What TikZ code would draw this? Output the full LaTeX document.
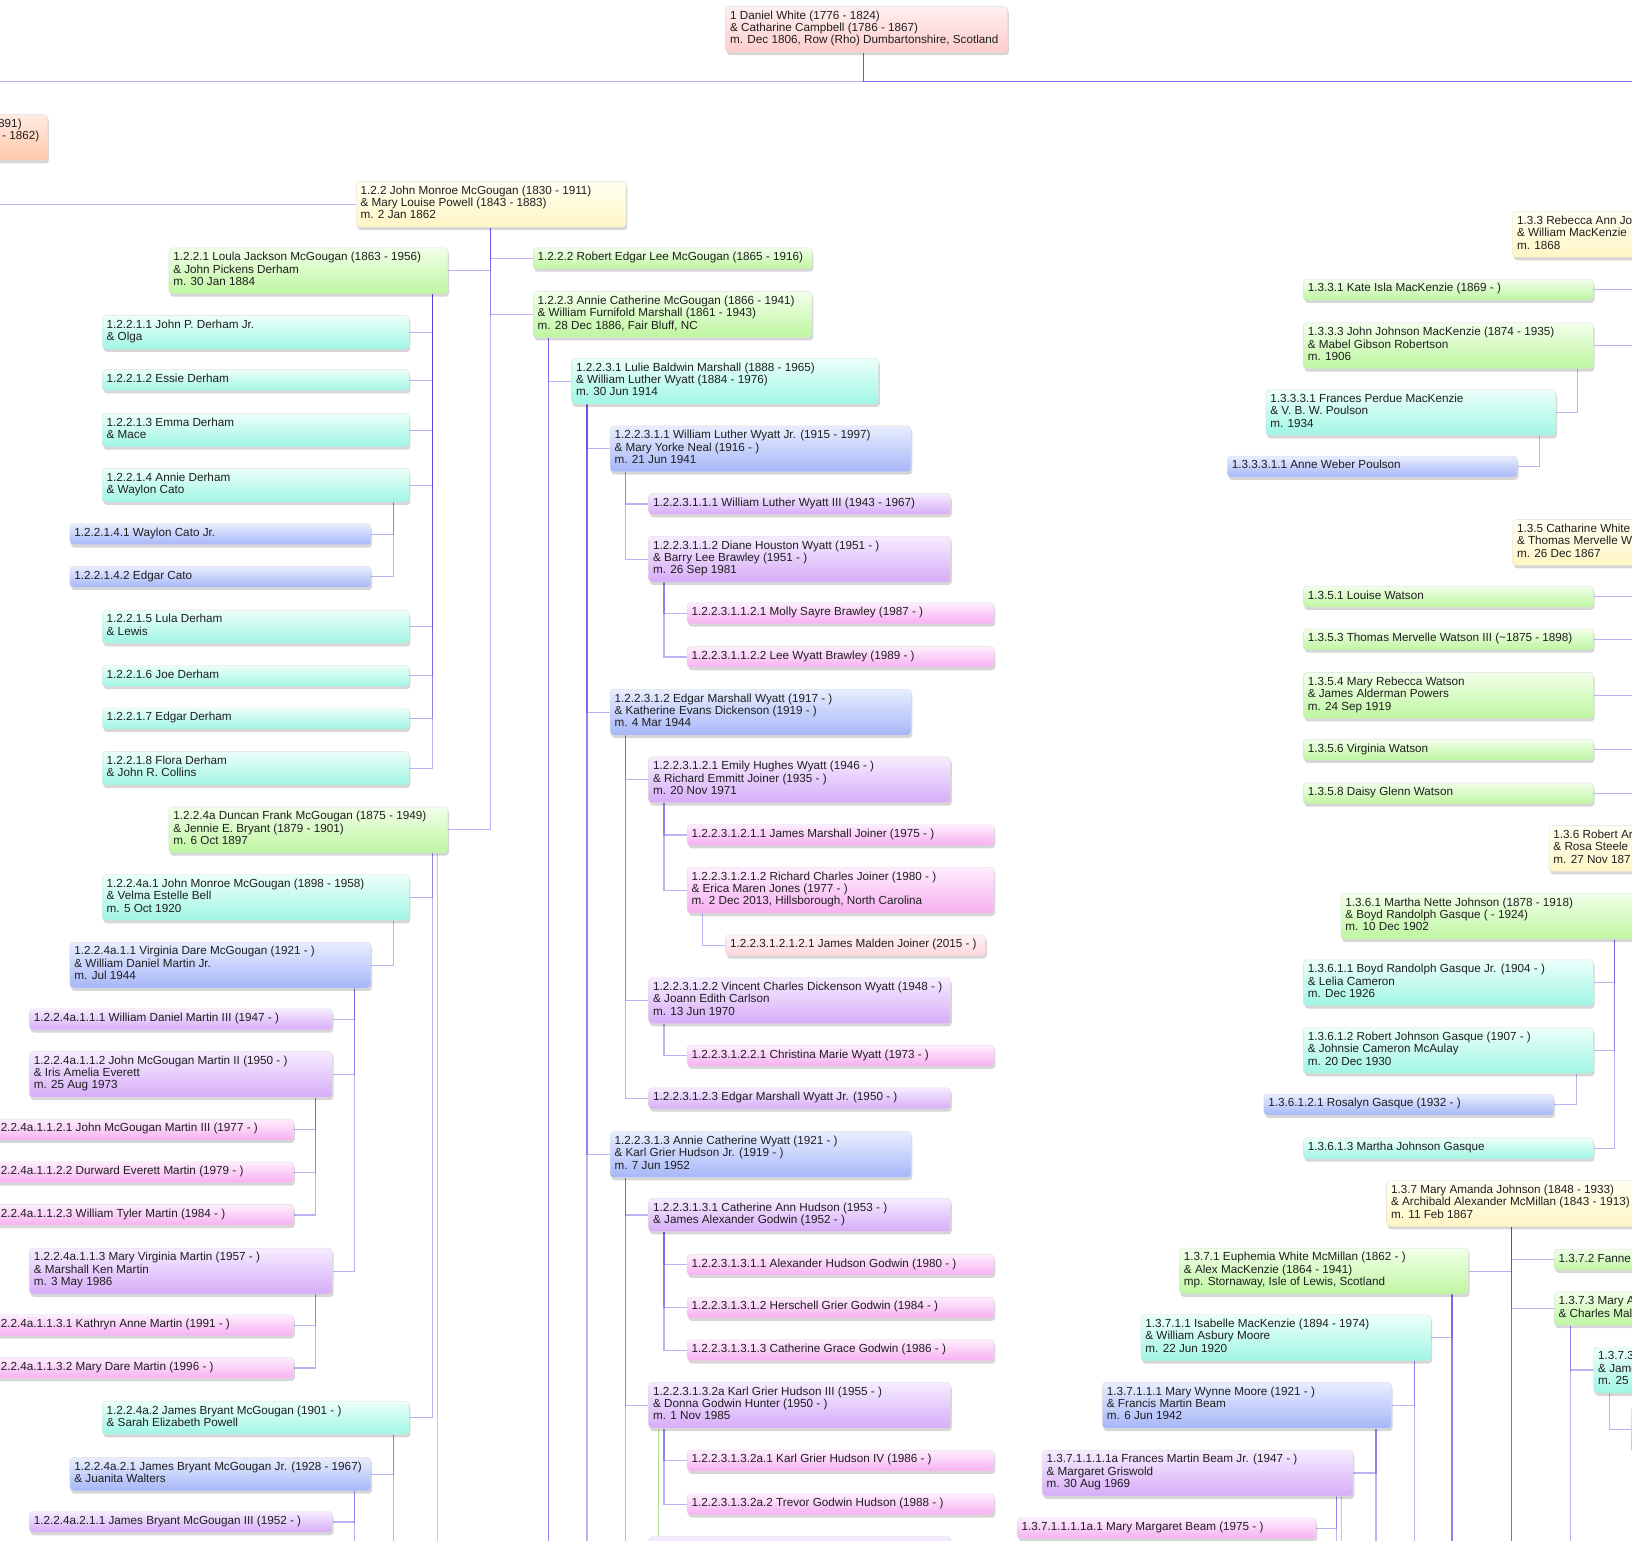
\documentclass[tikz,border=0pt]{standalone}
\usepackage{fontspec}
\setmainfont{Liberation Sans}
\usetikzlibrary{calc,shadows,backgrounds}
\definecolor{lc}{RGB}{80,62,226}
\definecolor{gc}{RGB}{170,226,150}
\definecolor{g1t}{RGB}{255,240,240}\definecolor{g1b}{RGB}{255,204,204}
\definecolor{g2t}{RGB}{255,236,224}\definecolor{g2b}{RGB}{255,198,168}
\definecolor{g3t}{RGB}{255,255,242}\definecolor{g3b}{RGB}{255,246,196}
\definecolor{g4t}{RGB}{242,255,234}\definecolor{g4b}{RGB}{190,246,160}
\definecolor{g5t}{RGB}{236,255,250}\definecolor{g5b}{RGB}{160,246,228}
\definecolor{g6t}{RGB}{232,238,255}\definecolor{g6b}{RGB}{166,182,248}
\definecolor{g7t}{RGB}{246,236,255}\definecolor{g7b}{RGB}{214,172,248}
\definecolor{g8t}{RGB}{255,238,255}\definecolor{g8b}{RGB}{246,176,240}
\definecolor{g9t}{RGB}{255,244,244}\definecolor{g9b}{RGB}{255,212,220}
\newcommand\mkp[7]{%
  \node[box,#2,#6,minimum width=#5pt,anchor=north west] (#1) at (#3,#4) {};
  \node[txt] (#1-l) at ([xshift=4.5pt,yshift=-4.2pt]#1.north west) {\strut#7};}
\newcommand\mkt[3]{\coordinate (#1-t) at ($(#1.#2)+(#3,0)$);}
\begin{document}
\begin{tikzpicture}[x=1.0408pt,y=-1.0408pt,
  box/.style={rectangle,rounded corners=3.5pt,draw=black!13,line width=0.4pt,inner sep=0pt,
    drop shadow={shadow xshift=1.2pt,shadow yshift=-2.8pt,fill=black,opacity=0.16}},
  txt/.style={anchor=north west,inner sep=0pt,align=left,font=\fontsize{11.7}{12.35}\selectfont,text=black!88},
  h1/.style={minimum height=21pt},h2/.style={minimum height=33.5pt},h3/.style={minimum height=46pt},
  g1/.style={top color=g1t,bottom color=g1b},g2/.style={top color=g2t,bottom color=g2b},
  g3/.style={top color=g3t,bottom color=g3b},g4/.style={top color=g4t,bottom color=g4b},
  g5/.style={top color=g5t,bottom color=g5b},g6/.style={top color=g6t,bottom color=g6b},
  g7/.style={top color=g7t,bottom color=g7b},g8/.style={top color=g8t,bottom color=g8b},
  g9/.style={top color=g9t,bottom color=g9b},
  conn/.style={draw=lc,line width=1.15pt,draw opacity=0.4},
  gconn/.style={draw=gc,line width=1.1pt}]
\useasboundingbox (0,0) rectangle (1568,1480);
\clip (0,0) rectangle (1568,1480);
\coordinate (eL) at (-10,78);
\coordinate (eR) at (1590,78);
\coordinate (bot) at (0,1500);
\coordinate (redge) at (1600,0);

% generation 1 and 2
\mkp{n1}{g1}{697}{6}{282}{h3}{1 Daniel White (1776 - 1824)\\\& Catharine Campbell (1786 - 1867)\\m. Dec 1806, Row (Rho) Dumbartonshire, Scotland}
\node[box,g2,h3,minimum width=200pt,anchor=north east] (n12) at (46,110) {};
\node[txt,anchor=base east] (n12-a) at (21,122.3) {891)};
\node[txt,anchor=base east] (n12-b) at (38,134.2) {- 1862)};

% left and centre family
\mkp{n122}{g3}{342}{174}{270}{h3}{1.2.2 John Monroe McGougan (1830 - 1911)\\\& Mary Louise Powell (1843 - 1883)\\m. 2 Jan 1862}
\mkp{n1221}{g4}{162}{238}{279}{h3}{1.2.2.1 Loula Jackson McGougan (1863 - 1956)\\\& John Pickens Derham\\m. 30 Jan 1884}
\mkp{n12211}{g5}{98}{303}{307}{h2}{1.2.2.1.1 John P. Derham Jr.\\\& Olga}
\mkp{n12212}{g5}{98}{355}{307}{h1}{1.2.2.1.2 Essie Derham}
\mkp{n12213}{g5}{98}{397}{307}{h2}{1.2.2.1.3 Emma Derham\\\& Mace}
\mkp{n12214}{g5}{98}{450}{307}{h2}{1.2.2.1.4 Annie Derham\\\& Waylon Cato}
\mkp{n122141}{g6}{67}{503}{301}{h1}{1.2.2.1.4.1 Waylon Cato Jr.}
\mkp{n122142}{g6}{67}{544}{301}{h1}{1.2.2.1.4.2 Edgar Cato}
\mkp{n12215}{g5}{98}{586}{307}{h2}{1.2.2.1.5 Lula Derham\\\& Lewis}
\mkp{n12216}{g5}{98}{639}{307}{h1}{1.2.2.1.6 Joe Derham}
\mkp{n12217}{g5}{98}{680}{307}{h1}{1.2.2.1.7 Edgar Derham}
\mkp{n12218}{g5}{98}{722}{307}{h2}{1.2.2.1.8 Flora Derham\\\& John R. Collins}
\mkp{n1224a}{g4}{162}{775}{279}{h3}{1.2.2.4a Duncan Frank McGougan (1875 - 1949)\\\& Jennie E. Bryant (1879 - 1901)\\m. 6 Oct 1897}
\mkp{n1224a1}{g5}{98}{840}{307}{h3}{1.2.2.4a.1 John Monroe McGougan (1898 - 1958)\\\& Velma Estelle Bell\\m. 5 Oct 1920}
\mkp{n1224a11}{g6}{67}{905}{301}{h3}{1.2.2.4a.1.1 Virginia Dare McGougan (1921 - )\\\& William Daniel Martin Jr.\\m. Jul 1944}
\mkp{n1224a111}{g7}{28}{969}{303}{h1}{1.2.2.4a.1.1.1 William Daniel Martin III (1947 - )}
\mkp{n1224a112}{g7}{28}{1010}{303}{h3}{1.2.2.4a.1.1.2 John McGougan Martin II (1950 - )\\\& Iris Amelia Everett\\m. 25 Aug 1973}
\mkp{n1224a1121}{g8}{-13}{1075}{307}{h1}{1.2.2.4a.1.1.2.1 John McGougan Martin III (1977 - )}
\mkp{n1224a1122}{g8}{-13}{1116}{307}{h1}{1.2.2.4a.1.1.2.2 Durward Everett Martin (1979 - )}
\mkp{n1224a1123}{g8}{-13}{1157}{307}{h1}{1.2.2.4a.1.1.2.3 William Tyler Martin (1984 - )}
\mkp{n1224a113}{g7}{28}{1199}{303}{h3}{1.2.2.4a.1.1.3 Mary Virginia Martin (1957 - )\\\& Marshall Ken Martin\\m. 3 May 1986}
\mkp{n1224a1131}{g8}{-13}{1263}{307}{h1}{1.2.2.4a.1.1.3.1 Kathryn Anne Martin (1991 - )}
\mkp{n1224a1132}{g8}{-13}{1304}{307}{h1}{1.2.2.4a.1.1.3.2 Mary Dare Martin (1996 - )}
\mkp{n1224a2}{g5}{98}{1346}{307}{h2}{1.2.2.4a.2 James Bryant McGougan (1901 - )\\\& Sarah Elizabeth Powell}
\mkp{n1224a21}{g6}{67}{1400}{301}{h2}{1.2.2.4a.2.1 James Bryant McGougan Jr. (1928 - 1967)\\\& Juanita Walters}
\mkp{n1224a211}{g7}{28}{1452}{303}{h1}{1.2.2.4a.2.1.1 James Bryant McGougan III (1952 - )}

\mkp{n1222}{g4}{512}{238}{279}{h1}{1.2.2.2 Robert Edgar Lee McGougan (1865 - 1916)}
\mkp{n1223}{g4}{512}{280}{279}{h3}{1.2.2.3 Annie Catherine McGougan (1866 - 1941)\\\& William Furnifold Marshall (1861 - 1943)\\m. 28 Dec 1886, Fair Bluff, NC}
\mkp{n12231}{g5}{549}{344}{307}{h3}{1.2.2.3.1 Lulie Baldwin Marshall (1888 - 1965)\\\& William Luther Wyatt (1884 - 1976)\\m. 30 Jun 1914}
\mkp{n122311}{g6}{586}{409}{301}{h3}{1.2.2.3.1.1 William Luther Wyatt Jr. (1915 - 1997)\\\& Mary Yorke Neal (1916 - )\\m. 21 Jun 1941}
\mkp{n1223111}{g7}{623}{474}{302}{h1}{1.2.2.3.1.1.1 William Luther Wyatt III (1943 - 1967)}
\mkp{n1223112}{g7}{623}{515}{302}{h3}{1.2.2.3.1.1.2 Diane Houston Wyatt (1951 - )\\\& Barry Lee Brawley (1951 - )\\m. 26 Sep 1981}
\mkp{n12231121}{g8}{660}{579}{307}{h1}{1.2.2.3.1.1.2.1 Molly Sayre Brawley (1987 - )}
\mkp{n12231122}{g8}{660}{621}{307}{h1}{1.2.2.3.1.1.2.2 Lee Wyatt Brawley (1989 - )}
\mkp{n122312}{g6}{586}{662}{301}{h3}{1.2.2.3.1.2 Edgar Marshall Wyatt (1917 - )\\\& Katherine Evans Dickenson (1919 - )\\m. 4 Mar 1944}
\mkp{n1223121}{g7}{623}{727}{302}{h3}{1.2.2.3.1.2.1 Emily Hughes Wyatt (1946 - )\\\& Richard Emmitt Joiner (1935 - )\\m. 20 Nov 1971}
\mkp{n12231211}{g8}{660}{792}{307}{h1}{1.2.2.3.1.2.1.1 James Marshall Joiner (1975 - )}
\mkp{n12231212}{g8}{660}{833}{307}{h3}{1.2.2.3.1.2.1.2 Richard Charles Joiner (1980 - )\\\& Erica Maren Jones (1977 - )\\m. 2 Dec 2013, Hillsborough, North Carolina}
\mkp{n122312121}{g9}{697}{898}{260}{h1}{1.2.2.3.1.2.1.2.1 James Malden Joiner (2015 - )}
\mkp{n1223122}{g7}{623}{939}{302}{h3}{1.2.2.3.1.2.2 Vincent Charles Dickenson Wyatt (1948 - )\\\& Joann Edith Carlson\\m. 13 Jun 1970}
\mkp{n12231221}{g8}{660}{1004}{307}{h1}{1.2.2.3.1.2.2.1 Christina Marie Wyatt (1973 - )}
\mkp{n1223123}{g7}{623}{1045}{302}{h1}{1.2.2.3.1.2.3 Edgar Marshall Wyatt Jr. (1950 - )}
\mkp{n122313}{g6}{586}{1087}{301}{h3}{1.2.2.3.1.3 Annie Catherine Wyatt (1921 - )\\\& Karl Grier Hudson Jr. (1919 - )\\m. 7 Jun 1952}
\mkp{n1223131}{g7}{623}{1151}{302}{h2}{1.2.2.3.1.3.1 Catherine Ann Hudson (1953 - )\\\& James Alexander Godwin (1952 - )}
\mkp{n12231311}{g8}{660}{1205}{307}{h1}{1.2.2.3.1.3.1.1 Alexander Hudson Godwin (1980 - )}
\mkp{n12231312}{g8}{660}{1246}{307}{h1}{1.2.2.3.1.3.1.2 Herschell Grier Godwin (1984 - )}
\mkp{n12231313}{g8}{660}{1287}{307}{h1}{1.2.2.3.1.3.1.3 Catherine Grace Godwin (1986 - )}
\mkp{n1223132a}{g7}{623}{1328}{302}{h3}{1.2.2.3.1.3.2a Karl Grier Hudson III (1955 - )\\\& Donna Godwin Hunter (1950 - )\\m. 1 Nov 1985}
\mkp{n1223132a1}{g8}{660}{1393}{307}{h1}{1.2.2.3.1.3.2a.1 Karl Grier Hudson IV (1986 - )}
\mkp{n1223132a2}{g8}{660}{1435}{307}{h1}{1.2.2.3.1.3.2a.2 Trevor Godwin Hudson (1988 - )}
\node[box,g7,h3,minimum width=302pt,anchor=north west] (n1223133) at (623,1476) {};

% right family
\mkp{n133}{g3}{1453}{203}{300}{h3}{1.3.3 Rebecca Ann Jo\\\& William MacKenzie\\m. 1868}
\mkp{n1331}{g4}{1252}{268}{290}{h1}{1.3.3.1 Kate Isla MacKenzie (1869 - )}
\mkp{n1333}{g4}{1252}{310}{290}{h3}{1.3.3.3 John Johnson MacKenzie (1874 - 1935)\\\& Mabel Gibson Robertson\\m. 1906}
\mkp{n13331}{g5}{1216}{374}{290}{h3}{1.3.3.3.1 Frances Perdue MacKenzie\\\& V. B. W. Poulson\\m. 1934}
\mkp{n133311}{g6}{1179}{438}{290}{h1}{1.3.3.3.1.1 Anne Weber Poulson}
\mkp{n135}{g3}{1453}{499}{300}{h3}{1.3.5 Catharine White\\\& Thomas Mervelle W\\m. 26 Dec 1867}
\mkp{n1351}{g4}{1252}{563}{290}{h1}{1.3.5.1 Louise Watson}
\mkp{n1353}{g4}{1252}{604}{290}{h1}{1.3.5.3 Thomas Mervelle Watson III (\textasciitilde1875 - 1898)}
\mkp{n1354}{g4}{1252}{646}{290}{h3}{1.3.5.4 Mary Rebecca Watson\\\& James Alderman Powers\\m. 24 Sep 1919}
\mkp{n1356}{g4}{1252}{710}{290}{h1}{1.3.5.6 Virginia Watson}
\mkp{n1358}{g4}{1252}{752}{290}{h1}{1.3.5.8 Daisy Glenn Watson}
\mkp{n136}{g3}{1488}{793}{300}{h3}{1.3.6 Robert Ar\\\& Rosa Steele\\m. 27 Nov 187}
\mkp{n1361}{g4}{1288}{858}{292}{h3}{1.3.6.1 Martha Nette Johnson (1878 - 1918)\\\& Boyd Randolph Gasque ( - 1924)\\m. 10 Dec 1902}
\mkp{n13611}{g5}{1252}{922}{290}{h3}{1.3.6.1.1 Boyd Randolph Gasque Jr. (1904 - )\\\& Lelia Cameron\\m. Dec 1926}
\mkp{n13612}{g5}{1252}{987}{290}{h3}{1.3.6.1.2 Robert Johnson Gasque (1907 - )\\\& Johnsie Cameron McAulay\\m. 20 Dec 1930}
\mkp{n136121}{g6}{1214}{1051}{290}{h1}{1.3.6.1.2.1 Rosalyn Gasque (1932 - )}
\mkp{n13613}{g5}{1252}{1093}{290}{h1}{1.3.6.1.3 Martha Johnson Gasque}
\mkp{n137}{g3}{1332}{1134}{300}{h3}{1.3.7 Mary Amanda Johnson (1848 - 1933)\\\& Archibald Alexander McMillan (1843 - 1913)\\m. 11 Feb 1867}
\mkp{n1371}{g4}{1133}{1199}{289}{h3}{1.3.7.1 Euphemia White McMillan (1862 - )\\\& Alex MacKenzie (1864 - 1941)\\mp. Stornaway, Isle of Lewis, Scotland}
\mkp{n1372}{g4}{1493}{1200}{200}{h1}{1.3.7.2 Fanne}
\mkp{n1373}{g4}{1493}{1241}{200}{h2}{1.3.7.3 Mary A\\\& Charles Mal}
\mkp{n1373x}{g5}{1531}{1294}{200}{h3}{1.3.7.3\\\& Jame\\m. 25}
\node[box,g6,h3,minimum width=100pt,anchor=north west] (n1373xx) at (1567,1351) {};
\mkp{n13711}{g5}{1096}{1263}{290}{h3}{1.3.7.1.1 Isabelle MacKenzie (1894 - 1974)\\\& William Asbury Moore\\m. 22 Jun 1920}
\mkp{n137111}{g6}{1059}{1328}{289}{h3}{1.3.7.1.1.1 Mary Wynne Moore (1921 - )\\\& Francis Martin Beam\\m. 6 Jun 1942}
\mkp{n1371111a}{g7}{1001}{1393}{311}{h3}{1.3.7.1.1.1.1a Frances Martin Beam Jr. (1947 - )\\\& Margaret Griswold\\m. 30 Aug 1969}
\mkp{n1371111a1}{g8}{977}{1458}{299}{h1}{1.3.7.1.1.1.1a.1 Mary Margaret Beam (1975 - )}

% trunk points
\mkt{n1}{south west}{133}
\mkt{n122}{south west}{129}
\mkt{n1221}{south east}{-15}
\mkt{n12214}{south east}{-15}
\mkt{n1224a}{south east}{-15}
\coordinate (n1224a-g) at ($(n1224a.south east)+(-10,0)$);
\mkt{n1224a1}{south east}{-15}
\mkt{n1224a11}{south east}{-16}
\mkt{n1224a112}{south east}{-16}
\mkt{n1224a113}{south east}{-16}
\mkt{n1224a2}{south east}{-15}
\mkt{n1224a21}{south east}{-16}
\mkt{n1223}{south west}{15}
\mkt{n12231}{south west}{15}
\mkt{n122311}{south west}{15}
\mkt{n1223112}{south west}{15}
\mkt{n122312}{south west}{15}
\mkt{n1223121}{south west}{15}
\mkt{n12231212}{south west}{15}
\mkt{n1223122}{south west}{15}
\mkt{n122313}{south west}{15}
\mkt{n1223131}{south west}{15}
\mkt{n1223132a}{south west}{15}
\coordinate (n1223132a-g) at ($(n1223132a.south west)+(10,0)$);
\mkt{n1333}{south east}{-15}
\mkt{n13331}{south east}{-16}
\mkt{n1361}{south west}{263}
\mkt{n13612}{south east}{-16}
\mkt{n137}{south west}{120}
\mkt{n1371}{south east}{-16}
\mkt{n13711}{south east}{-16}
\mkt{n137111}{south east}{-15}
\mkt{n1371111a}{south east}{-16}
\coordinate (n1371111a-g) at ($(n1371111a.south east)+(-11,0)$);
\mkt{n1373}{south west}{16}
\mkt{n1373x}{south west}{15}

\begin{scope}[on background layer]
\clip (0,0) rectangle (1568,1480);
\draw[conn] (n1-t) |- (eL);
\foreach \i in {1,2,3} \draw[conn] (n1-t) |- (eR);
\draw[conn] (n122.west) -- (n122.west -| eL);
\draw[conn] (n122-t) |- (n1221.east);
\draw[conn] (n122-t) |- (n1222.west);
\draw[conn] (n122-t) |- (n1223.west);
\draw[conn] (n122-t) |- (n1224a.east);
\foreach \c in {n12211,n12212,n12213,n12214,n12215,n12216,n12217,n12218} \draw[conn] (n1221-t) |- (\c.east);
\foreach \c in {n122141,n122142} \draw[conn] (n12214-t) |- (\c.east);
\foreach \c in {n1224a1,n1224a2} \draw[conn] (n1224a-t) |- (\c.east);
\draw[gconn] (n1224a-g) -- (n1224a-g |- bot);
\draw[conn] (n1224a1-t) |- (n1224a11.east);
\foreach \c in {n1224a111,n1224a112,n1224a113} \draw[conn] (n1224a11-t) |- (\c.east);
\foreach \c in {n1224a1121,n1224a1122,n1224a1123} \draw[conn] (n1224a112-t) |- (\c.east);
\foreach \c in {n1224a1131,n1224a1132} \draw[conn] (n1224a113-t) |- (\c.east);
\draw[conn] (n1224a2-t) |- (n1224a21.east);
\draw[conn] (n1224a2-t) -- (n1224a2-t |- bot);
\draw[conn] (n1224a21-t) |- (n1224a211.east);
\draw[conn] (n1224a21-t) -- (n1224a21-t |- bot);
% centre
\draw[conn] (n1223-t) |- (n12231.west);
\foreach \i in {1,2} \draw[conn] (n1223-t) -- (n1223-t |- bot);
\foreach \c in {n122311,n122312,n122313} \draw[conn] (n12231-t) |- (\c.west);
\draw[conn] (n12231-t) -- (n12231-t |- bot);
\foreach \c in {n1223111,n1223112} \draw[conn] (n122311-t) |- (\c.west);
\foreach \c in {n12231121,n12231122} \draw[conn] (n1223112-t) |- (\c.west);
\foreach \c in {n1223121,n1223122,n1223123} \draw[conn] (n122312-t) |- (\c.west);
\foreach \c in {n12231211,n12231212} \draw[conn] (n1223121-t) |- (\c.west);
\draw[conn] (n12231212-t) |- (n122312121.west);
\draw[conn] (n1223122-t) |- (n12231221.west);
\foreach \c in {n1223131,n1223132a,n1223133} \draw[conn] (n122313-t) |- (\c.west);
\foreach \c in {n12231311,n12231312,n12231313} \draw[conn] (n1223131-t) |- (\c.west);
\foreach \c in {n1223132a1,n1223132a2} \draw[conn] (n1223132a-t) |- (\c.west);
\draw[gconn] (n1223132a-g) -- (n1223132a-g |- bot);
% right
\foreach \c in {n1331,n1333,n1351,n1353,n1354,n1356,n1358} \draw[conn] (\c.east) -- (\c.east -| redge);
\draw[conn] (n1333-t) |- (n13331.east);
\draw[conn] (n13331-t) |- (n133311.east);
\foreach \c in {n13611,n13612,n13613} \draw[conn] (n1361-t) |- (\c.east);
\draw[conn] (n13612-t) |- (n136121.east);
\draw[conn] (n137-t) |- (n1371.east);
\draw[conn] (n137-t) |- (n1372.west);
\draw[conn] (n137-t) |- (n1373.west);
\foreach \i in {1,2,3} \draw[conn] (n137-t) -- (n137-t |- bot);
\draw[conn] (n1371-t) |- (n13711.east);
\foreach \i in {1,2} \draw[conn] (n1371-t) -- (n1371-t |- bot);
\draw[conn] (n13711-t) |- (n137111.east);
\draw[conn] (n13711-t) -- (n13711-t |- bot);
\draw[conn] (n137111-t) |- (n1371111a.east);
\draw[conn] (n137111-t) -- (n137111-t |- bot);
\draw[conn] (n1371111a-t) |- (n1371111a1.east);
\draw[conn] (n1371111a-t) -- (n1371111a-t |- bot);
\draw[gconn] (n1371111a-g) -- (n1371111a-g |- bot);
\draw[conn] (n1373-t) |- (n1373x.west);
\draw[conn] (n1373-t) -- (n1373-t |- bot);
\draw[conn] (n1373x-t) |- (n1373xx.west);
\end{scope}
\end{tikzpicture}
\end{document}
